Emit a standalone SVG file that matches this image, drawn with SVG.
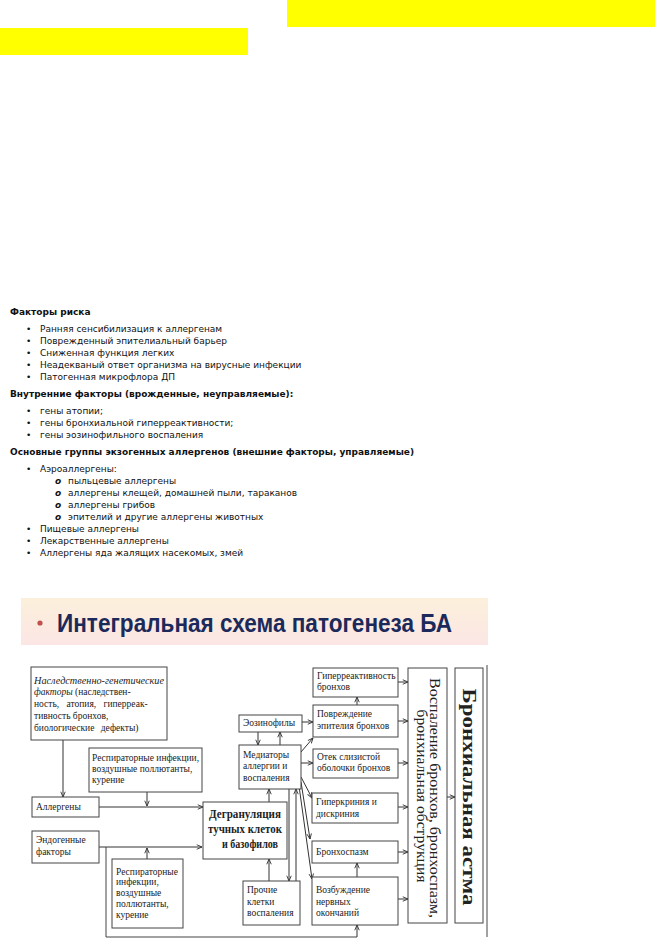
<svg xmlns="http://www.w3.org/2000/svg" width="655" height="948" viewBox="0 0 655 948">
<defs>
<linearGradient id="hdr" x1="0" y1="0" x2="0" y2="1">
<stop offset="0" stop-color="#fcf0db"/>
<stop offset="1" stop-color="#fbe6e5"/>
</linearGradient>
<marker id="ah" viewBox="0 0 8 8" refX="7.5" refY="4" markerWidth="6" markerHeight="6" markerUnits="userSpaceOnUse" orient="auto">
<path d="M0.5,1 L7.5,4 L0.5,7" fill="none" stroke="#333" stroke-width="1.2"/>
</marker>
<style>
.l{font-family:"DejaVu Sans","Noto Sans",sans-serif;font-size:9px;fill:#111}
.h{font-family:"DejaVu Sans","Noto Sans",sans-serif;font-size:9px;font-weight:bold;fill:#111}
.o{font-family:"DejaVu Sans","Noto Sans",sans-serif;font-size:9px;font-weight:bold;font-style:italic;fill:#111}
.box{fill:#fff;stroke:#444;stroke-width:1}
.t{font-family:"Liberation Serif","Times New Roman",serif;font-size:9.5px;fill:#222}
.ti{font-family:"Liberation Serif","Times New Roman",serif;font-size:9.5px;font-style:italic;fill:#222}
.tb{font-family:"Liberation Serif","Times New Roman",serif;font-size:13px;font-weight:bold;fill:#222;text-anchor:middle}
.c{fill:none;stroke:#333;stroke-width:1;marker-end:url(#ah)}
.cn{fill:none;stroke:#444;stroke-width:1}
</style>
</defs>
<rect width="655" height="948" fill="#fff"/>
<rect x="287" y="0" width="368" height="27" fill="#ffff00"/>
<rect x="0" y="28" width="248" height="27" fill="#ffff00"/>

<g id="text-section">
<text class="h" x="10" y="315">Факторы риска</text>
<text class="l" x="26" y="332">•</text><text class="l" x="40" y="332">Ранняя сенсибилизация к аллергенам</text>
<text class="l" x="26" y="344">•</text><text class="l" x="40" y="344">Поврежденный эпителиальный барьер</text>
<text class="l" x="26" y="356">•</text><text class="l" x="40" y="356">Сниженная функция легких</text>
<text class="l" x="26" y="368">•</text><text class="l" x="40" y="368">Неадекваный ответ организма на вирусные инфекции</text>
<text class="l" x="26" y="380">•</text><text class="l" x="40" y="380">Патогенная микрофлора ДП</text>
<text class="h" x="10" y="397">Внутренние факторы (врожденные, неуправляемые):</text>
<text class="l" x="26" y="414">•</text><text class="l" x="40" y="414">гены атопии;</text>
<text class="l" x="26" y="426">•</text><text class="l" x="40" y="426">гены бронхиальной гиперреактивности;</text>
<text class="l" x="26" y="438">•</text><text class="l" x="40" y="438">гены эозинофильного воспаления</text>
<text class="h" x="10" y="455">Основные группы экзогенных аллергенов (внешние факторы, управляемые)</text>
<text class="l" x="26" y="472">•</text><text class="l" x="40" y="472">Аэроаллергены:</text>
<text class="o" x="55" y="484">o</text><text class="l" x="68" y="484">пыльцевые аллергены</text>
<text class="o" x="55" y="496">o</text><text class="l" x="68" y="496">аллергены клещей, домашней пыли, тараканов</text>
<text class="o" x="55" y="508">o</text><text class="l" x="68" y="508">аллергены грибов</text>
<text class="o" x="55" y="520">o</text><text class="l" x="68" y="520">эпителий и другие аллергены животных</text>
<text class="l" x="26" y="532">•</text><text class="l" x="40" y="532">Пищевые аллергены</text>
<text class="l" x="26" y="544">•</text><text class="l" x="40" y="544">Лекарственные аллергены</text>
<text class="l" x="26" y="556">•</text><text class="l" x="40" y="556">Аллергены яда жалящих насекомых, змей</text>
</g>

<g id="header">
<rect x="21" y="598" width="467" height="47" fill="url(#hdr)"/>
<circle cx="40" cy="623" r="2.6" fill="#c0504d"/>
<text x="57" y="632" font-family="'Liberation Sans',Arial,sans-serif" font-size="25" font-weight="bold" fill="#1b2a5a" textLength="395" lengthAdjust="spacingAndGlyphs">Интегральная схема патогенеза БА</text>
</g>

<g id="connectors">
<path class="c" d="M63,740 V797"/>
<path class="c" d="M147,792 V806"/>
<path class="c" d="M99,807 H203"/>
<path class="c" d="M99,847 H202"/>
<path class="c" d="M147,859 V848"/>
<path class="cn" d="M106,847 V937 H357" stroke="#888"/>
<path class="c" d="M357,937 V925"/>
<path class="c" d="M269,802 V789"/>
<path class="c" d="M269,881 V859"/>
<path class="c" d="M289,789 V881"/>
<path class="c" d="M296,881 V789"/>
<path class="c" d="M258,732 V745"/>
<path class="c" d="M280,745 V732"/>
<path class="c" d="M302,722 H313"/>
<path class="c" d="M301,752 L313,738"/>
<path class="c" d="M301,763 H313"/>
<path class="c" d="M301,777 L312,798"/>
<path class="c" d="M301,782 L310,839"/>
<path class="c" d="M299,786 L312,879"/>
<path class="c" d="M357,705 V697"/>
<path class="c" d="M357,877 V863"/>
<path class="c" d="M398,682 H408"/>
<path class="c" d="M398,721 H408"/>
<path class="c" d="M398,763 H408"/>
<path class="c" d="M398,807 H408"/>
<path class="c" d="M398,852 H408"/>
<path class="c" d="M398,899 H408"/>
<path class="c" d="M447,797 H455"/>
<path class="cn" d="M487,665 V937" stroke="#555" stroke-width="1.5"/>
</g>

<g id="n-nasled">
<rect class="box" x="31" y="667" width="136" height="73"/>
<text class="ti" x="34" y="684" textLength="130" lengthAdjust="spacingAndGlyphs">Наследственно-генетические</text>
<text class="t" x="34" y="695"><tspan font-style="italic">факторы</tspan> (наследствен-</text>
<text class="t" x="34" y="707" word-spacing="5">ность, атопия, гиперреак-</text>
<text class="t" x="34" y="719">тивность бронхов,</text>
<text class="t" x="34" y="731" word-spacing="4">биологические дефекты)</text>
</g>

<g id="n-resp1">
<rect class="box" x="89" y="748" width="113" height="44"/>
<text class="t" x="92" y="761">Респираторные инфекции,</text>
<text class="t" x="92" y="772">воздушные поллютанты,</text>
<text class="t" x="92" y="783">курение</text>
</g>

<g id="n-allergeny">
<rect class="box" x="32" y="797" width="67" height="20"/>
<text class="t" x="36" y="810">Аллергены</text>
</g>

<g id="n-endogen">
<rect class="box" x="32" y="831" width="67" height="32"/>
<text class="t" x="36" y="843">Эндогенные</text>
<text class="t" x="36" y="855">факторы</text>
</g>

<g id="n-resp2">
<rect class="box" x="112" y="859" width="71" height="69"/>
<text class="t" x="116" y="875">Респираторные</text>
<text class="t" x="116" y="885">инфекции,</text>
<text class="t" x="116" y="896">воздушные</text>
<text class="t" x="116" y="907">поллютанты,</text>
<text class="t" x="116" y="918">курение</text>
</g>

<g id="n-degran">
<rect class="box" x="203" y="802" width="84" height="57" stroke-width="1.3"/>
<text class="tb" x="245" y="818" textLength="72" lengthAdjust="spacingAndGlyphs">Дегрануляция</text>
<text class="tb" x="245" y="833" textLength="74" lengthAdjust="spacingAndGlyphs">тучных клеток</text>
<text class="tb" x="250" y="848" textLength="56" lengthAdjust="spacingAndGlyphs">и базофилов</text>
</g>

<g id="n-eozin">
<rect class="box" x="239" y="715" width="63" height="17"/>
<text class="t" x="243" y="726">Эозинофилы</text>
</g>

<g id="n-mediat">
<rect class="box" x="239" y="745" width="62" height="44"/>
<text class="t" x="243" y="758">Медиаторы</text>
<text class="t" x="243" y="769">аллергии и</text>
<text class="t" x="243" y="781">воспаления</text>
</g>

<g id="n-prochie">
<rect class="box" x="243" y="881" width="57" height="44"/>
<text class="t" x="247" y="893">Прочие</text>
<text class="t" x="247" y="905">клетки</text>
<text class="t" x="247" y="916">воспаления</text>
</g>

<g id="n-giperreakt">
<rect class="box" x="313" y="668" width="85" height="29"/>
<text class="t" x="317" y="679">Гиперреактивность</text>
<text class="t" x="317" y="690">бронхов</text>
</g>

<g id="n-povrezhd">
<rect class="box" x="313" y="705" width="85" height="32"/>
<text class="t" x="317" y="717">Повреждение</text>
<text class="t" x="317" y="729">эпителия бронхов</text>
</g>

<g id="n-otek">
<rect class="box" x="313" y="749" width="85" height="29"/>
<text class="t" x="317" y="760">Отек слизистой</text>
<text class="t" x="317" y="771">оболочки бронхов</text>
</g>

<g id="n-giperkrin">
<rect class="box" x="312" y="793" width="86" height="30"/>
<text class="t" x="316" y="805">Гиперкриния и</text>
<text class="t" x="316" y="817">дискриния</text>
</g>

<g id="n-bronhospazm">
<rect class="box" x="312" y="841" width="86" height="22"/>
<text class="t" x="316" y="855">Бронхоспазм</text>
</g>

<g id="n-vozbuzhd">
<rect class="box" x="312" y="877" width="86" height="48"/>
<text class="t" x="316" y="893">Возбуждение</text>
<text class="t" x="316" y="905">нервных</text>
<text class="t" x="316" y="916">окончаний</text>
</g>

<g id="n-vospalenie">
<rect class="box" x="408" y="668" width="39" height="255"/>
<text transform="translate(430,798) rotate(90)" font-family="'Liberation Serif','Times New Roman',serif" font-size="14.5" fill="#222" text-anchor="middle" textLength="240" lengthAdjust="spacingAndGlyphs">Воспаление бронхов, бронхоспазм,</text>
<text transform="translate(417,796) rotate(90)" font-family="'Liberation Serif','Times New Roman',serif" font-size="14.5" fill="#222" text-anchor="middle" textLength="173" lengthAdjust="spacingAndGlyphs">бронхиальная обструкция</text>
</g>

<g id="n-astma">
<rect class="box" x="455" y="668" width="28" height="255"/>
<text transform="translate(463,797) rotate(90)" font-family="'Liberation Serif','Times New Roman',serif" font-size="19" font-weight="bold" fill="#222" text-anchor="middle" textLength="217" lengthAdjust="spacingAndGlyphs">Бронхиальная астма</text>
</g>
</svg>
